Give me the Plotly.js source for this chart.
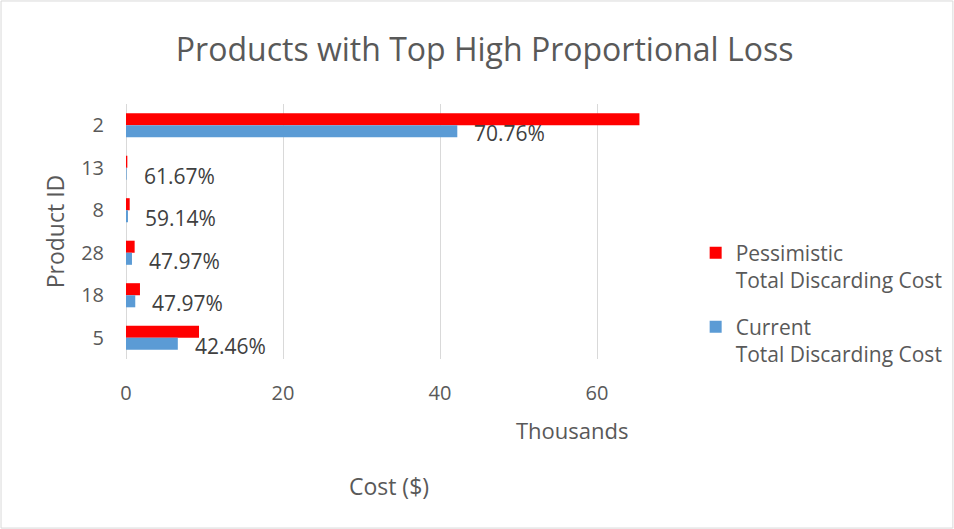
<!DOCTYPE html>
<html>
<head>
<meta charset="utf-8">
<script src="https://cdn.plot.ly/plotly-3.0.1.min.js"></script>
<style>
html,body{margin:0;padding:0;background:#fff;}
#chart{width:954px;height:529px;}
</style>
</head>
<body>
<div id="chart"></div>
<script>
// Data (cost in thousands of $), top-to-bottom order
const productIds = ["2", "13", "8", "28", "18", "5"];
const pessimisticCost = [65.4, 0.17, 0.47, 1.1, 1.78, 9.3];
const currentCost = [42.2, 0.08, 0.25, 0.76, 1.18, 6.6];
const lossLabels = ["70.76%", "61.67%", "59.14%", "47.97%", "47.97%", "42.46%"];
const seriesNames = ["Pessimistic<br>Total Discarding Cost", "Current<br>Total Discarding Cost"];
const xTicks = [0, 20, 40, 60];

const FONT = "Open Sans, Noto Sans, sans-serif";
const GREY = "#595959";

const traces = [
  {
    type: "bar", orientation: "h",
    y: productIds, x: pessimisticCost,
    name: seriesNames[0],
    marker: {color: "#FF0000"},
    hoverinfo: "x+y"
  },
  {
    type: "bar", orientation: "h",
    y: productIds, x: currentCost,
    name: seriesNames[1],
    marker: {color: "#5B9BD5"},
    legend: "legend2",
    hoverinfo: "x+y"
  }
];

// Data labels placed just past the end of each "current" bar (y = category index)
const labelAnnotations = productIds.map((id, i) => ({
  xref: "x", yref: "y",
  x: currentCost[i], y: i,
  text: lossLabels[i],
  showarrow: false,
  xanchor: "left", yanchor: "middle",
  xshift: 15, yshift: -8,
  font: {family: FONT, size: 21, color: "#404040"}
}));

const legendCommon = {
  xanchor: "left", yanchor: "top",
  font: {family: FONT, size: 21, color: GREY},
  valign: "top",
  itemwidth: 30,
  bgcolor: "rgba(0,0,0,0)"
};

const layout = {
  width: 954, height: 529,
  paper_bgcolor: "#fff", plot_bgcolor: "#fff",
  font: {family: FONT, color: GREY},
  margin: {l: 126, r: 302, t: 104, b: 170, autoexpand: false},
  showlegend: true,
  title: {
    text: "Products with Top High Proportional Loss",
    font: {family: FONT, size: 32, color: GREY},
    x: 0.508, xanchor: "center", y: 0.905, yanchor: "middle"
  },
  barmode: "group",
  bargap: 0.433,
  bargroupgap: 0,
  xaxis: {
    range: [0, 67],
    autorange: false,
    tickvals: xTicks,
    ticktext: xTicks.map(String),
    showgrid: true, gridcolor: "#d9d9d9", gridwidth: 1,
    zeroline: true, zerolinecolor: "#d9d9d9", zerolinewidth: 1,
    showline: false, ticks: "",
    ticklabelstandoff: 20,
    tickfont: {family: FONT, size: 20, color: GREY},
    title: {text: "Cost ($)", font: {family: FONT, size: 23, color: GREY}, standoff: 73}
  },
  yaxis: {
    type: "category",
    categoryorder: "array",
    categoryarray: productIds,
    range: [productIds.length - 0.5, -0.5],
    autorange: false,
    showgrid: false, showline: false, ticks: "",
    tickfont: {family: FONT, size: 20, color: GREY},
    ticklabelstandoff: 21,
    title: {text: "Product ID", font: {family: FONT, size: 23, color: GREY}, standoff: 10}
  },
  legend: Object.assign({x: 1.083, y: 0.4957}, legendCommon),
  legend2: Object.assign({x: 1.083, y: 0.2055}, legendCommon),
  annotations: labelAnnotations.concat([
    {
      xref: "paper", yref: "paper",
      x: 0.848, y: -0.278, xanchor: "center", yanchor: "middle",
      text: "Thousands", showarrow: false,
      font: {family: FONT, size: 22, color: GREY}
    }
  ]),
  shapes: [
    {type: "rect", xref: "paper", yref: "paper", x0: -0.2376, x1: 1.572, y0: -0.663, y1: 1.404,
     line: {color: "#d9d9d9", width: 1}, fillcolor: "rgba(0,0,0,0)", layer: "below"}
  ]
};

Plotly.newPlot("chart", traces, layout, {displayModeBar: false, staticPlot: true});
</script>
</body>
</html>
